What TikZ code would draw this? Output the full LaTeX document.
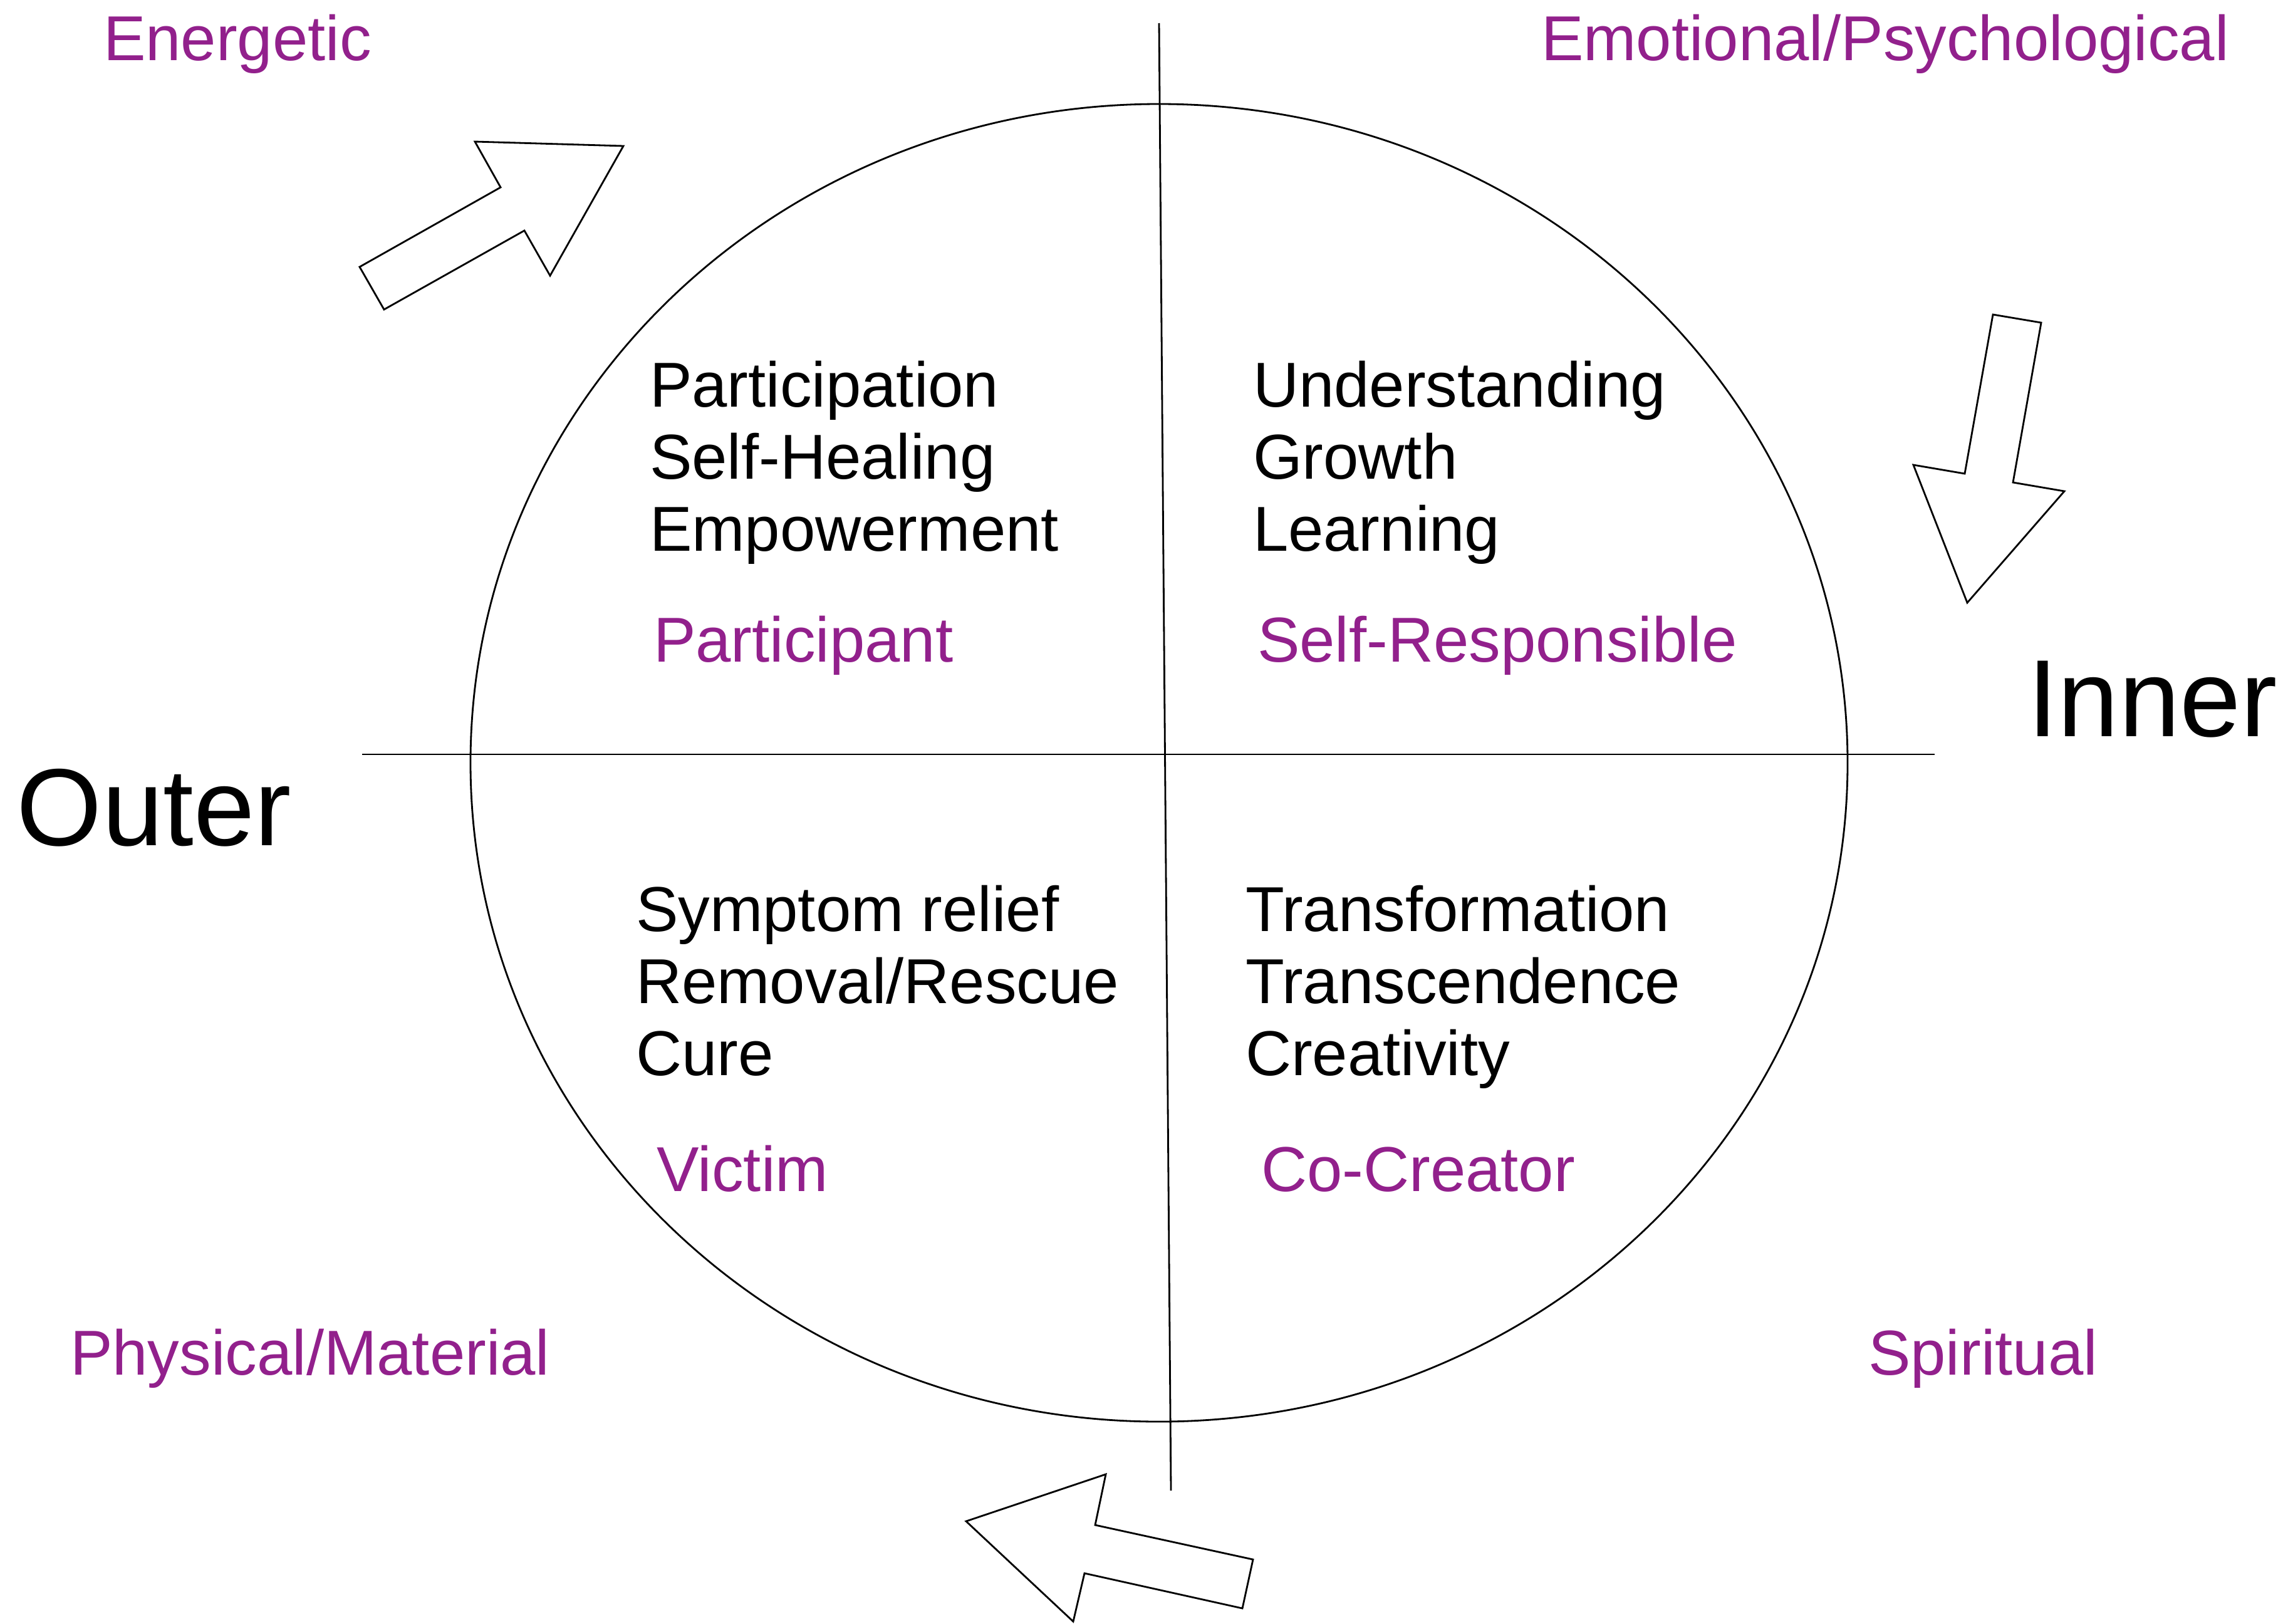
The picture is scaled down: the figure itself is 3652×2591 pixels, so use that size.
\documentclass[tikz,border=0pt]{standalone}
\usepackage{fontspec}
\setmainfont{Liberation Sans}
\definecolor{lblpurple}{RGB}{146,32,140}
\tikzset{
  txt/.style={anchor=base west, inner sep=0pt, outer sep=0pt, font=\fontsize{28.8pt}{33pt}\selectfont},
  ptxt/.style={txt, text=lblpurple},
  bigtxt/.style={anchor=base west, inner sep=0pt, outer sep=0pt, font=\fontsize{49.8pt}{56pt}\selectfont},
  axisline/.style={line width=0.8pt, black},
  blockarrow/.style={line width=0.8pt, black, fill=white, line join=miter}
}
\begin{document}
\begin{tikzpicture}[x=0.01cm,y=-0.01cm]
\useasboundingbox (0,0) rectangle (3652,2591);
% circle and axes
\draw[axisline] (1850,1217.5) ellipse [x radius=1099, y radius=1051.5];
\coordinate (hL) at (578,1204);
\coordinate (hR) at (3088,1204);
\coordinate (vT) at (1850,37);
\coordinate (vB) at (1869,2379);
\draw[axisline] (hL) -- (hR);
\draw[axisline] (vT) -- (vB);
% block arrows
\draw[blockarrow] (574,426) -- (799,299) -- (758,226) -- (995,233) -- (878,440) -- (837,368) -- (613,494) -- cycle;
\draw[blockarrow] (3181,502) -- (3258,515) -- (3213,770) -- (3295,784) -- (3140,962) -- (3054,742) -- (3136,756) -- cycle;
\draw[blockarrow] (1542,2428) -- (1765,2353) -- (1748,2434) -- (2000,2489) -- (1983,2567) -- (1731,2511) -- (1713,2588) -- cycle;
% corner labels
\node[ptxt] (energetic) at (165,97) {Energetic};
\node[ptxt] (emotional) at (2460,97) {Emotional/Psychological};
\node[ptxt] (physical) at (112,2194) {Physical/Material};
\node[ptxt] (spiritual) at (2982,2194) {Spiritual};
% big labels
\node[bigtxt] (outer) at (27,1349) {Outer};
\node[bigtxt] (inner) at (3236,1175) {Inner};
% top-left quadrant
\node[txt] (q1a) at (1037,649) {Participation};
\node[txt] (q1b) at (1037,764) {Self-Healing};
\node[txt] (q1c) at (1037,879) {Empowerment};
\node[ptxt] (q1p) at (1043,1056) {Participant};
% top-right quadrant
\node[txt] (q2a) at (2000,649) {Understanding};
\node[txt] (q2b) at (2000,764) {Growth};
\node[txt] (q2c) at (2000,879) {Learning};
\node[ptxt] (q2p) at (2007,1056) {Self-Responsible};
% bottom-left quadrant
\node[txt] (q3a) at (1015,1486) {Symptom relief};
\node[txt] (q3b) at (1015,1601) {Removal/Rescue};
\node[txt] (q3c) at (1015,1716) {Cure};
\node[ptxt] (q3p) at (1048,1901) {Victim};
% bottom-right quadrant
\node[txt] (q4a) at (1988,1486) {Transformation};
\node[txt] (q4b) at (1988,1601) {Transcendence};
\node[txt] (q4c) at (1988,1716) {Creativity};
\node[ptxt] (q4p) at (2013,1901) {Co-Creator};
\end{tikzpicture}
\end{document}
